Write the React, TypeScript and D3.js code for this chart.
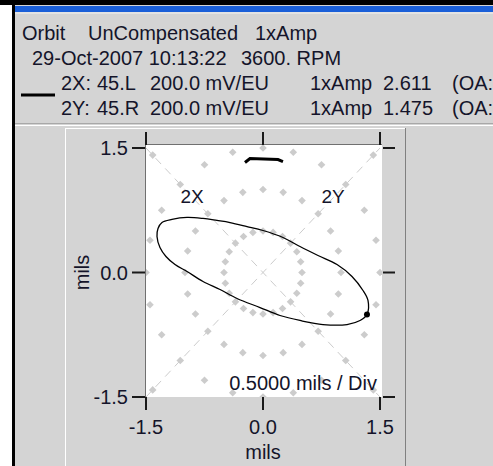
import React from 'react';
import * as d3 from 'd3';

const W = 493;
const H = 466;

// Header text
const titleParts = ['Orbit', 'UnCompensated', '1xAmp'];
const subtitleParts = ['29-Oct-2007 10:13:22', '3600. RPM'];
const row2X = ['2X:', '45.L', '200.0 mV/EU', '1xAmp', '2.611', '(OA:'];
const row2Y = ['2Y:', '45.R', '200.0 mV/EU', '1xAmp', '1.475', '(OA:'];

// Axes
const axisTicks = [-1.5, 0, 1.5];
const axisTickLabels = ['-1.5', '0.0', '1.5'];
const axisTitle = 'mils';
const scaleNote = '0.5000 mils / Div';
const probeLabels = ['2X', '2Y'];

// Polar grid (rings in mils, angles in degrees from vertical)
const ringRadii = [0.5, 1.0, 1.5, 2.0];
const ringAngles = [0, 15, 30, 45, 60, 75, 90, 105, 120, 135, 150, 165, 180, 195, 210, 225, 240, 255, 270, 285, 300, 315, 330, 345];

// Orbit (mils), starting at the keyphasor dot
const orbitX = [1.333, 1.346, 1.282, 1.141, 0.949, 0.705, 0.474, 0.256, 0.0, -0.205, -0.423, -0.59, -0.769, -0.974, -1.167, -1.295, -1.346, -1.359, -1.321, -1.244, -1.128, -0.974, -0.769, -0.551, -0.333, -0.038, 0.218, 0.474, 0.769, 1.077, 1.244];
const orbitY = [-0.506, -0.337, -0.217, -0.048, 0.096, 0.205, 0.313, 0.422, 0.506, 0.554, 0.602, 0.627, 0.651, 0.663, 0.639, 0.602, 0.53, 0.434, 0.301, 0.193, 0.096, 0.012, -0.108, -0.205, -0.313, -0.422, -0.518, -0.578, -0.627, -0.627, -0.578];

// Small thick mark at top of plot
const topMarkX = [-0.231, -0.167, 0.192, 0.256];
const topMarkY = [1.325, 1.373, 1.361, 1.337];

const FONT = '"Liberation Sans", Arial, sans-serif';
const TEXT = '#14142a';
const BG = '#d4d4d4';

export default function App() {
  const x = d3.scaleLinear().domain([-1.5, 1.5]).range([146, 380]);
  const y = d3.scaleLinear().domain([-1.5, 1.5]).range([397, 148]);

  const orbitPts: [number, number][] = orbitX.map((v, i) => [x(v), y(orbitY[i])]);
  const orbitPath = d3.line().curve(d3.curveCatmullRomClosed.alpha(0.5))(orbitPts) || '';
  const topMarkPath = d3.line().curve(d3.curveLinear)(topMarkX.map((v, i) => [x(v), y(topMarkY[i])] as [number, number])) || '';

  const diamonds: { px: number; py: number }[] = [];
  ringRadii.forEach((r) => {
    ringAngles.forEach((a) => {
      const rad = (a * Math.PI) / 180;
      const dx = r * Math.sin(rad);
      const dy = r * Math.cos(rad);
      if (Math.abs(dx) <= 1.55 && Math.abs(dy) <= 1.55) diamonds.push({ px: x(dx), py: y(dy) });
    });
  });

  const plotL = x(-1.5);
  const plotR = x(1.5) + 2;
  const plotT = y(1.5) - 3;
  const plotB = y(-1.5);
  const cx = x(0);
  const cy = y(0);
  const d = 3.8;

  return (
    <svg width={W} height={H} style={{ position: 'absolute', left: 0, top: 0 }} fontFamily={FONT}>
      <defs>
        <clipPath id="plotClip">
          <rect x={plotL} y={plotT} width={plotR - plotL} height={plotB - plotT} />
        </clipPath>
      </defs>
      {/* window frame */}
      <rect x={0} y={0} width={W} height={H} fill="#ffffff" />
      <rect x={15} y={5} width={W - 15} height={H - 5} fill={BG} />
      <rect x={0} y={0} width={W} height={5} fill="#000" />
      <rect x={12} y={0} width={3} height={H} fill="#000" />
      <rect x={15} y={6} width={W - 15} height={6} fill="#1a5fd8" />
      <line x1={15} x2={W} y1={13} y2={13} stroke="#f2f2f2" strokeWidth={1} />

      {/* header */}
      <g fontSize={20} fill={TEXT}>
        <text x={22} y={40}>{titleParts[0]}</text>
        <text x={88} y={40}>{titleParts[1]}</text>
        <text x={255} y={40}>{titleParts[2]}</text>
        <text x={32} y={65}>{subtitleParts[0]}</text>
        <text x={241} y={65}>{subtitleParts[1]}</text>
        {[row2X, row2Y].map((row, i) => (
          <g key={i}>
            <text x={61} y={90 + i * 25}>{row[0]}</text>
            <text x={97} y={90 + i * 25}>{row[1]}</text>
            <text x={150} y={90 + i * 25}>{row[2]}</text>
            <text x={310} y={90 + i * 25}>{row[3]}</text>
            <text x={383} y={90 + i * 25}>{row[4]}</text>
            <text x={452} y={90 + i * 25}>{row[5]}</text>
          </g>
        ))}
      </g>
      <line x1={21} x2={55} y1={95} y2={95} stroke="#000" strokeWidth={3} />

      {/* separator */}
      <line x1={15} x2={W} y1={123.5} y2={123.5} stroke="#a8a8a8" />
      <line x1={15} x2={W} y1={125.5} y2={125.5} stroke="#ffffff" />

      {/* inner panel */}
      <line x1={65.5} x2={65.5} y1={128} y2={H} stroke="#ffffff" />
      <line x1={65} x2={405} y1={128.5} y2={128.5} stroke="#ffffff" />
      <line x1={405.5} x2={405.5} y1={128} y2={H} stroke="#808080" />

      {/* plot area */}
      <rect x={plotL} y={plotT} width={plotR - plotL} height={plotB - plotT} fill="#ffffff" />
      <g clipPath="url(#plotClip)">
        <line x1={x(-1.5)} y1={y(1.5)} x2={x(1.5)} y2={y(-1.5)} stroke="#cccccc" strokeDasharray="8,6" />
        <line x1={x(-1.5)} y1={y(-1.5)} x2={x(1.5)} y2={y(1.5)} stroke="#cccccc" strokeDasharray="8,6" />
        {diamonds.map((p, i) => (
          <path key={i} d={`M${p.px},${p.py - d}L${p.px + d},${p.py}L${p.px},${p.py + d}L${p.px - d},${p.py}Z`} fill="#cccccc" />
        ))}
      </g>
      <text x={cx - 71} y={cy - 70} fontSize={19} fill={TEXT} textAnchor="middle">{probeLabels[0]}</text>
      <text x={cx + 70} y={cy - 70} fontSize={19} fill={TEXT} textAnchor="middle">{probeLabels[1]}</text>
      <text x={plotR - 5} y={plotB - 7} fontSize={20} fill={TEXT} textAnchor="end">{scaleNote}</text>

      {/* orbit */}
      <path d={orbitPath} fill="none" stroke="#000" strokeWidth={1.3} />
      <circle cx={orbitPts[0][0]} cy={orbitPts[0][1]} r={3} fill="#000" />
      <path d={topMarkPath} fill="none" stroke="#000" strokeWidth={3} />

      {/* frame */}
      <line x1={145.5} x2={145.5} y1={plotT - 1} y2={plotB} stroke="#707070" />
      <line x1={145} x2={plotR} y1={plotT - 0.5} y2={plotT - 0.5} stroke="#707070" />

      {/* ticks */}
      <g stroke="#1a1a1a" strokeWidth={2}>
        {axisTicks.map((t) => (
          <g key={t}>
            <line x1={132} x2={145} y1={y(t)} y2={y(t)} />
            <line x1={383} x2={395} y1={y(t)} y2={y(t)} />
            <line x1={x(t)} x2={x(t)} y1={132} y2={plotT} />
            <line x1={x(t)} x2={x(t)} y1={plotB} y2={plotB + 13} />
          </g>
        ))}
      </g>
      <g fontSize={20} fill={TEXT}>
        {axisTicks.map((t, i) => (
          <text key={'y' + t} x={128} y={y(t)} dy="0.35em" textAnchor="end">{axisTickLabels[i]}</text>
        ))}
        {axisTicks.map((t, i) => (
          <text key={'x' + t} x={x(t)} y={434} textAnchor="middle">{axisTickLabels[i]}</text>
        ))}
        <text x={cx} y={459} textAnchor="middle">{axisTitle}</text>
        <text transform={`translate(89,${cy}) rotate(-90)`} textAnchor="middle">{axisTitle}</text>
      </g>
    </svg>
  );
}
